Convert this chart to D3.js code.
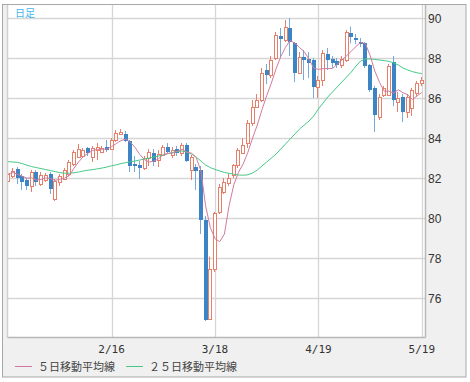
<!DOCTYPE html>
<html><head><meta charset="utf-8">
<script src="https://cdn.jsdelivr.net/npm/d3@7"></script>
<style>html,body{margin:0;padding:0;background:#fff;}svg{display:block;}</style>
</head><body>
<svg id="c" width="470" height="382"></svg>
<script>
// ---- data ----
const openV  = [81.85,82.1,82.45,82.1,81.9,81.6,82.3,81.7,81.9,82.2,80.95,81.8,81.95,82.2,82.7,83.05,83.1,83.5,83.05,83.4,83.3,83.55,83.45,83.9,84.2,84.2,83.87,82.7,82.65,82.5,83.0,83.25,82.9,83.15,83.55,83.15,83.45,83.25,83.65,82.4,82.55,82.4,79.9,74.97,77.45,80.32,81.32,81.73,82.15,82.65,83.27,83.73,84.73,85.57,85.9,87.4,87.15,87.98,89.1,88.9,89.5,88.75,87.25,88.05,87.93,87.9,86.55,86.9,88.2,87.95,87.85,87.65,87.9,89.23,88.98,88.82,88.75,87.65,86.5,85.07,86.15,86.15,87.8,85.8,86.05,85.3,85.5,86.25,86.75];
const highV  = [82.3,82.5,82.55,82.2,82.0,82.4,82.4,82.3,82.25,82.3,81.95,82.2,82.5,82.9,83.4,83.7,83.5,83.55,83.6,83.75,83.6,83.9,84.0,84.4,84.45,84.35,83.9,83.1,82.85,83.1,83.45,83.45,83.4,83.65,83.75,83.55,83.6,83.75,83.75,83.15,82.7,82.6,80.1,78.07,80.3,81.7,82.0,82.2,82.7,83.5,84.0,84.9,85.9,86.2,87.5,87.7,88.1,89.3,89.5,89.9,90.0,88.8,88.3,88.4,88.3,88.0,87.1,88.4,88.5,88.1,88.0,88.1,89.4,89.57,89.2,89.0,88.8,87.7,86.6,86.2,86.6,87.7,88.1,86.3,86.2,86.2,86.5,86.85,87.05];
const lowV   = [81.6,82.0,81.7,81.4,81.4,81.3,81.6,81.6,81.8,81.2,80.85,81.6,81.9,82.1,82.6,83.0,83.0,83.1,82.8,82.9,83.3,83.3,83.4,83.8,84.2,83.8,82.3,82.3,81.95,82.4,82.6,82.6,82.55,83.1,83.2,83.0,83.1,83.1,82.8,81.9,81.4,79.2,74.85,74.9,77.3,80.2,81.2,81.6,82.0,82.5,83.2,83.5,84.6,85.5,85.8,86.7,87.0,87.9,88.0,88.8,88.1,86.8,87.2,86.9,87.0,86.0,86.0,86.6,87.4,87.5,87.5,87.5,87.8,88.73,88.7,88.55,87.5,86.3,84.3,84.9,86.05,86.1,85.6,85.3,84.8,85.0,85.1,86.1,86.6];
const closeV = [82.2,82.35,82.0,81.8,81.6,82.3,81.8,82.15,82.15,81.45,81.85,82.1,82.4,82.8,83.3,83.45,83.4,83.25,83.5,83.55,83.5,83.4,83.9,84.25,84.3,83.87,82.6,82.6,82.5,83.0,83.3,82.8,83.2,83.55,83.3,83.4,83.25,83.65,82.85,83.05,82.35,79.9,74.9,77.45,80.25,81.57,81.82,82.0,82.65,83.4,83.65,84.73,85.57,85.9,87.23,87.15,87.9,89.15,88.93,89.57,88.8,87.25,88.05,87.9,87.73,86.57,86.9,88.25,87.9,87.75,87.65,87.95,89.3,89.07,88.9,88.7,87.6,86.4,85.15,86.07,86.5,87.6,85.9,86.0,85.3,86.05,86.4,86.75,86.9];
const ma25V  = [82.82,82.8,82.78,82.72,82.64,82.57,82.52,82.47,82.42,82.37,82.32,82.27,82.24,82.24,82.26,82.3,82.35,82.39,82.42,82.46,82.5,82.55,82.61,82.66,82.72,82.77,82.81,82.85,82.9,82.95,83.0,83.05,83.1,83.15,83.22,83.28,83.32,83.35,83.3,83.2,83.05,82.85,82.65,82.52,82.43,82.35,82.28,82.23,82.19,82.15,82.14,82.16,82.25,82.4,82.6,82.8,83.0,83.2,83.45,83.7,83.95,84.2,84.45,84.65,84.85,85.1,85.45,85.75,86.05,86.3,86.55,86.8,87.05,87.3,87.6,87.85,87.95,87.95,87.93,87.9,87.87,87.83,87.76,87.65,87.5,87.4,87.32,87.26,87.22];
const yTicks = [76,78,80,82,84,86,88,90];
const xTickLabels = ["2/16","3/18","4/19","5/19"];
const xTickBars   = [22,44,66,88];
const legendLabels = ["５日移動平均線","２５日移動平均線"];
const periodLabel = "日足";

// ---- layout ----
const svg = d3.select("#c");
const P = {l:7.5, r:425.5, t:4.5, b:337.5};
const x = d3.scaleLinear().domain([0,88]).range([8.2,421.8]);
const y = d3.scaleLinear().domain([74.05,90.7]).range([337,4]);
const UP = "#e6806a", DOWN = "#3d84c4", DOWNWICK = "#74aadc";
const C5 = "#d27a9e", C25 = "#46c987";

// frame
svg.append("rect").attr("x",2.5).attr("y",4.5).attr("width",463.5).attr("height",372.5)
  .attr("fill","#f0f0f0").attr("stroke","#a8a8a8");
svg.append("rect").attr("x",P.l).attr("y",P.t).attr("width",P.r-P.l).attr("height",P.b-P.t)
  .attr("fill","#fff").attr("stroke","none");

svg.append("clipPath").attr("id","clip").append("rect")
  .attr("x",P.l+0.5).attr("y",P.t).attr("width",P.r-P.l-1).attr("height",P.b-P.t);

// grid
const grid = svg.append("g");
grid.selectAll("line.h").data(yTicks).join("line")
  .attr("x1",P.l).attr("x2",P.r).attr("y1",d=>Math.round(y(d))+0.5).attr("y2",d=>Math.round(y(d))+0.5)
  .attr("stroke","#d6d6d6").attr("stroke-width",1.3);
grid.selectAll("line.v").data(xTickBars).join("line")
  .attr("x1",d=>Math.round(x(d))+0.5).attr("x2",d=>Math.round(x(d))+0.5).attr("y1",P.t).attr("y2",P.b)
  .attr("stroke","#d6d6d6").attr("stroke-width",1.3);

// borders
svg.append("line").attr("x1",P.l).attr("x2",P.l).attr("y1",P.t).attr("y2",P.b).attr("stroke","#cfcfcf").attr("stroke-width",1.5);
svg.append("line").attr("x1",P.r).attr("x2",P.r).attr("y1",P.t).attr("y2",P.b).attr("stroke","#b8b8b8").attr("stroke-width",1.5);
svg.append("line").attr("x1",P.l).attr("x2",P.r).attr("y1",P.b).attr("y2",P.b).attr("stroke","#b8b8b8").attr("stroke-width",1.5);
svg.append("line").attr("x1",2).attr("x2",466).attr("y1",4.5).attr("y2",4.5).attr("stroke","#a8a8a8");

const plot = svg.append("g").attr("clip-path","url(#clip)");

// candles
const idx = d3.range(closeV.length);
const cg = plot.append("g");
idx.forEach(i=>{
  const cx = Math.round(x(i));
  const up = closeV[i] >= openV[i];
  cg.append("line").attr("x1",cx-0.5).attr("x2",cx-0.5)
    .attr("y1",y(highV[i])).attr("y2",y(lowV[i]))
    .attr("stroke", up?UP:DOWNWICK).attr("stroke-width",1);
  if(up){
    const t = Math.round(y(closeV[i]))+0.5, b = Math.round(y(openV[i]))+0.5;
    cg.append("rect").attr("x",cx-1.5).attr("y",t).attr("width",3).attr("height",Math.max(1,b-t))
      .attr("fill","#fff").attr("stroke",UP).attr("stroke-width",1);
  } else {
    const t = Math.round(y(openV[i])), b = Math.round(y(closeV[i]));
    cg.append("rect").attr("x",cx-2).attr("y",t).attr("width",4).attr("height",Math.max(1,b-t))
      .attr("fill",DOWN);
  }
});

// moving averages
const ma5V = idx.map(i=>{const s=closeV.slice(Math.max(0,i-4),i+1);return d3.mean(s);});
const line = d3.line().x((d,i)=>x(i)).y(d=>y(d));
plot.append("path").attr("d",line(ma25V)).attr("fill","none").attr("stroke",C25).attr("stroke-width",1);
plot.append("path").attr("d",line(ma5V)).attr("fill","none").attr("stroke",C5).attr("stroke-width",1);

// y axis labels
const yAxis = d3.axisRight(y).tickValues(yTicks).tickSize(0).tickPadding(0).tickFormat(d3.format("d"));
const ya = svg.append("g").attr("transform","translate(428,0)").call(yAxis);
ya.select(".domain").remove();
ya.selectAll("text").attr("font-family","'Liberation Sans',Arial,sans-serif").attr("font-size",12)
  .attr("fill","#333").attr("dy","0.36em");

// x axis labels
svg.selectAll("text.xl").data(xTickBars).join("text").attr("class","xl")
  .attr("x",d=>x(d)).attr("y",353).attr("text-anchor","middle")
  .attr("font-family","'DejaVu Sans Mono',monospace").attr("font-size",11).attr("fill","#333")
  .text((d,i)=>xTickLabels[i]);

// period label
svg.append("text").attr("x",15).attr("y",17).attr("font-family","'Noto Sans CJK JP',sans-serif")
  .attr("font-size",10).attr("fill","#45b5ee").text(periodLabel);

// legend
const lg = [{x1:15,x2:32,tx:38,c:C5},{x1:126,x2:143,tx:149,c:C25}];
lg.forEach((d,i)=>{
  svg.append("line").attr("x1",d.x1).attr("x2",d.x2).attr("y1",366.5).attr("y2",366.5).attr("stroke",d.c).attr("stroke-width",1);
  svg.append("text").attr("x",d.tx).attr("y",371).attr("font-family","'Noto Sans CJK JP',sans-serif")
    .attr("font-size",11).attr("fill","#444").text(legendLabels[i]);
});
</script>
</body></html>
